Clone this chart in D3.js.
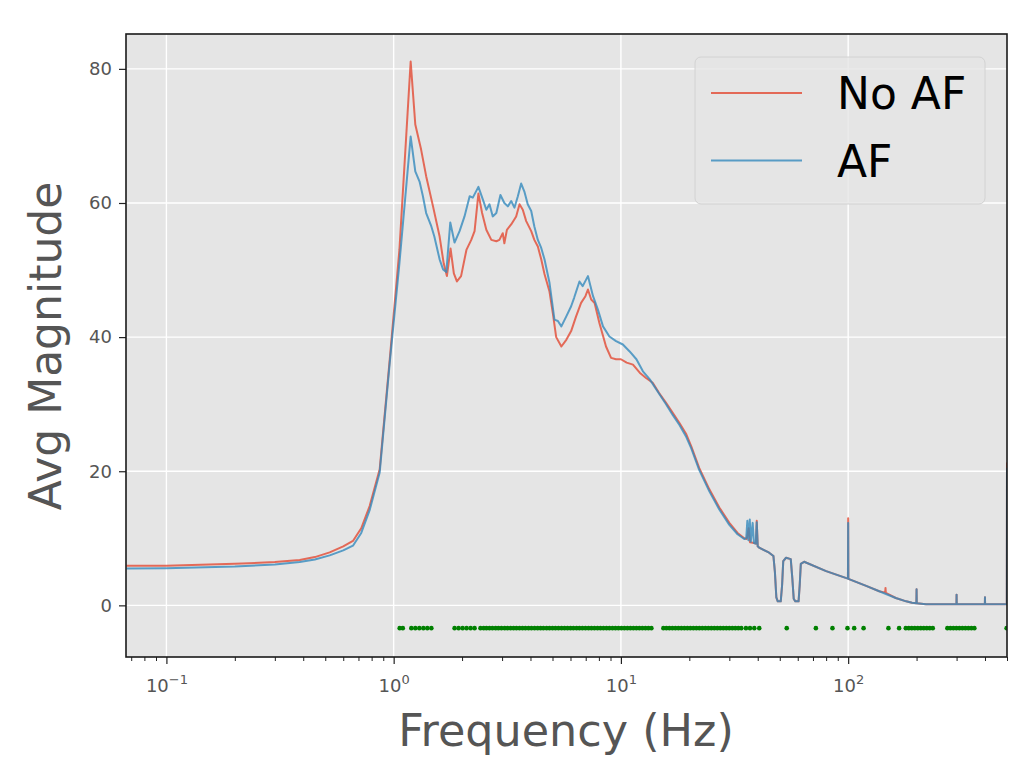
<!DOCTYPE html>
<html>
<head>
<meta charset="utf-8">
<script src="https://cdn.jsdelivr.net/npm/d3@7"></script>
<style>
  html, body { margin: 0; padding: 0; background: #ffffff; }
  svg { display: block; }
  text { font-family: "DejaVu Sans", sans-serif; }
</style>
</head>
<body>
<svg id="chart" width="1024" height="766"></svg>
<script>
// ---------------- data ----------------
const freqNoAF = [0.0667,0.1,0.2,0.3,0.386,0.45,0.523,0.6,0.662,0.72,0.784,0.868,0.96,1.06,1.188,1.245,1.32,1.39,1.49,1.593,1.66,1.715,1.78,1.84,1.898,1.98,2.09,2.195,2.27,2.36,2.45,2.557,2.69,2.83,2.92,3.02,3.07,3.15,3.29,3.46,3.58,3.70,3.83,4.03,4.16,4.31,4.46,4.61,4.85,5.02,5.19,5.47,5.75,6.04,6.35,6.68,6.98,7.16,7.4,7.66,8.04,8.6,9.05,9.52,10,10.6,11.3,12.1,12.9,13.8,14.7,15.8,16.9,18.1,19.4,20.4,22.1,24.5,27.1,30,32.6,34.9,35.8,36.5,37,38.5,39.3,39.6,40.0,40.6,44.9,46.9,47.6,48.3,49,50.5,51.2,51.8,53.3,55.9,56.8,57.6,58.5,60.5,61.2,61.9,64,80,97.5,99.8,100,100.2,120,137,145.5,146,146.5,162,180,191,199.6,200,200.4,220,299.6,300,300.4,399.5,400,400.5,499,500];
const magNoAF = [5.9,5.9,6.2,6.45,6.75,7.2,7.9,8.8,9.6,11.5,14.8,20.3,36.5,53,81.1,71.7,68,64,59.5,55,51,49.1,53.2,49.5,48.3,49.1,53,54.5,55.8,61.4,58.5,56,54.5,54.3,54.5,55.5,54,56,56.8,58,59.8,59,57.3,55.8,54.5,53.5,51.6,49.4,46.8,43.5,40,38.6,39.6,40.9,43.1,45.1,46.1,47.1,45.6,45.1,42.1,38.6,36.9,36.7,36.7,36.2,35.9,34.7,33.9,33.2,31.7,30.2,28.7,27.2,25.5,23.7,20.5,17.3,14.6,12.3,10.8,10.0,9.9,11.5,9.4,9.3,9.2,12.6,8.8,8.6,7.85,7.35,5,1.2,0.6,0.6,3,6.6,7.1,6.9,4,1.0,0.6,0.6,3,6.2,6.5,5.1,4.1,4.0,13,3.95,2.9,2.1,1.9,2.6,1.85,1.1,0.6,0.4,0.3,2.4,0.3,0.15,0.15,1.6,0.15,0.15,1.2,0.15,0.15,21.3];

const freqAF = [0.0667,0.1,0.2,0.3,0.386,0.45,0.523,0.6,0.662,0.72,0.784,0.868,0.96,1.06,1.188,1.245,1.30,1.345,1.39,1.465,1.51,1.593,1.65,1.705,1.775,1.853,1.95,2.05,2.16,2.23,2.36,2.47,2.557,2.64,2.73,2.83,2.95,3.07,3.18,3.29,3.40,3.52,3.64,3.76,3.89,4.03,4.16,4.31,4.46,4.61,4.85,5.10,5.28,5.47,5.75,6.04,6.23,6.57,6.79,7.16,7.54,7.92,8.34,8.9,9.52,10.2,10.9,11.7,12.5,13.4,14.7,15.8,16.9,18.1,19.4,20.4,22.1,24.5,27.1,30,32.6,34.9,35.6,36,36.4,36.9,37.3,38,38.5,39.2,39.6,40.0,40.6,44.9,46.9,47.6,48.3,49,50.5,51.2,51.8,53.3,55.9,56.8,57.6,58.5,60.5,61.2,61.9,64,80,97.5,99.8,100,100.2,120,137,162,180,191,199.6,200,200.4,220,299.6,300,300.4,399.5,400,400.5,499,500];
const magAF = [5.5,5.55,5.8,6.1,6.45,6.85,7.45,8.2,8.9,10.8,14.2,19.8,36,51,69.9,64.7,63.2,61,58.5,56.5,55,51.6,50.1,49.7,57.1,54.1,55.8,58,61,60.8,62.4,60.5,59,59.8,58,58.5,61.2,60,59.5,60.3,59.3,61,62.9,61.7,59.8,58.8,56.5,54.5,53.3,51.6,48.1,42.6,42.4,41.6,43.1,44.6,45.9,48.3,47.6,49.1,46.1,44.1,41.6,40.1,39.4,38.9,37.9,36.7,34.9,33.7,31.6,30.0,28.4,26.9,25.1,23.4,20.2,17.0,14.3,12.0,10.6,9.9,10.0,12.6,9.7,12.8,9.5,12.3,9.3,9.2,12.4,8.8,8.6,7.85,7.35,5,1.2,0.6,0.6,3,6.6,7.1,6.9,4,1.0,0.6,0.6,3,6.2,6.5,5.1,4.1,4.0,12.3,3.95,2.9,2.1,1.1,0.6,0.4,0.3,2.4,0.3,0.15,0.15,1.6,0.15,0.15,1.2,0.15,0.15,20.5];

// significant-frequency markers (green dots)
const sigFreqs = [1.063,1.097,1.196,1.245,1.297,1.351,1.406,1.465,
  1.854,1.931,2.011,2.094,2.181,2.270,
  2.41,2.49,2.56,2.64,2.72,2.81,2.89,2.98,3.08,3.17,3.27,3.37,3.47,3.58,3.69,3.80,3.92,4.04,4.17,4.30,4.43,4.56,4.71,4.85,5.00,5.15,5.31,5.48,5.65,5.82,6.00,6.18,6.38,6.57,6.77,6.98,7.20,7.42,7.65,7.89,8.13,8.38,8.64,8.90,9.18,9.46,9.75,10.05,10.36,10.68,11.01,11.35,11.70,12.06,12.43,12.82,13.21,13.62,
  15.38,15.85,16.34,16.85,17.37,17.90,18.45,19.02,19.61,20.21,20.84,21.48,22.14,22.82,23.53,24.25,25.00,25.77,26.56,27.38,28.23,29.10,29.99,30.92,31.87,32.85,33.87,
  35.5,36.98,38.63,40.62,
  53.66,72.1,85.3,99.3,106.3,116.9,150.4,167.6,
  179.3,184.8,190.5,196.4,202.5,208.7,215.1,221.8,228.6,235.7,
  273.3,281.7,290.4,299.4,308.6,318.1,327.9,338.0,348.5,359.2,
  498];
const sigLevel = -3.4;

const yTicks = [0, 20, 40, 60, 80];
const xTicks = [0.1, 1, 10, 100];
const xTickExp = ["\u22121", "0", "1", "2"];
const seriesNames = ["No AF", "AF"];
const seriesColors = ["#E24A33", "#348ABD"];

// ---------------- layout ----------------
const W = 1024, H = 766;
const m = { left: 126, top: 34, right: 17, bottom: 109 };
const pw = W - m.left - m.right, ph = H - m.top - m.bottom;

const svg = d3.select("#chart");
const g = svg.append("g").attr("transform", `translate(${m.left},${m.top})`);

const x = d3.scaleLog().domain([0.0664, 500]).range([0, pw]);
const y = d3.scaleLinear().domain([-7.7, 85.2]).range([ph, 0]);

// background
g.append("rect").attr("width", pw).attr("height", ph).attr("fill", "#E5E5E5");

// clip
svg.append("defs").append("clipPath").attr("id", "clip")
  .append("rect").attr("width", pw).attr("height", ph);

// grid
const grid = g.append("g");
grid.selectAll(".gx").data(xTicks).join("line")
  .attr("x1", d => x(d)).attr("x2", d => x(d)).attr("y1", 0).attr("y2", ph)
  .attr("stroke", "#ffffff").attr("stroke-width", 1.4);
grid.selectAll(".gy").data(yTicks).join("line")
  .attr("x1", 0).attr("x2", pw).attr("y1", d => y(d)).attr("y2", d => y(d))
  .attr("stroke", "#ffffff").attr("stroke-width", 1.4);

// lines
const line = d3.line().x(d => x(d[0])).y(d => y(d[1]));
const series = [d3.zip(freqNoAF, magNoAF), d3.zip(freqAF, magAF)];
const plot = g.append("g").attr("clip-path", "url(#clip)");
series.forEach((s, i) => {
  plot.append("path").datum(s).attr("d", line)
    .attr("fill", "none").attr("stroke", seriesColors[i])
    .attr("stroke-width", 2).attr("stroke-opacity", 0.8)
    .attr("stroke-linejoin", "round");
});

// significance dots
plot.selectAll(".sig").data(sigFreqs).join("circle")
  .attr("cx", d => x(d)).attr("cy", y(sigLevel)).attr("r", 2.3)
  .attr("fill", "#008000");

// axes
const tickColor = "#555555";
const yAxis = d3.axisLeft(y).tickValues(yTicks).tickSize(7).tickPadding(7).tickFormat(d3.format("d"));
const ya = g.append("g").call(yAxis);
ya.select(".domain").remove();
ya.selectAll("line").attr("stroke", "#222").attr("stroke-width", 1.2);
ya.selectAll("text").attr("fill", tickColor).style("font-size", "18px");

const minorTicks = [];
[0.01, 0.1, 1, 10, 100].forEach(dec => { for (let k = 2; k <= 9; k++) { const v = dec * k; if (v >= 0.0664 && v <= 500.01) minorTicks.push(v); } });
const xMinor = d3.axisBottom(x).tickValues(minorTicks).tickSize(4).tickFormat("");
const xm = g.append("g").attr("transform", `translate(0,${ph})`).call(xMinor);
xm.select(".domain").remove();
xm.selectAll("line").attr("stroke", "#222").attr("stroke-width", 1);

const xAxis = d3.axisBottom(x).tickValues(xTicks).tickSize(7).tickPadding(6).tickFormat("");
const xa = g.append("g").attr("transform", `translate(0,${ph})`).call(xAxis);
xa.select(".domain").remove();
xa.selectAll("line").attr("stroke", "#222").attr("stroke-width", 1.2);
xa.selectAll(".tick").each(function(d, i) {
  const t = d3.select(this).append("text").attr("fill", tickColor)
    .attr("y", 35).attr("text-anchor", "middle").style("font-size", "18px");
  t.append("tspan").text("10");
  t.append("tspan").text(xTickExp[i]).attr("dy", -8).style("font-size", "13px");
});

// frame
g.append("rect").attr("width", pw).attr("height", ph)
  .attr("fill", "none").attr("stroke", "#1a1a1a").attr("stroke-width", 1.6);

// axis labels
svg.append("text").attr("x", 566).attr("y", 746).attr("text-anchor", "middle")
  .attr("fill", tickColor).style("font-size", "44.5px").text("Frequency (Hz)");
svg.append("text").attr("transform", `translate(61,346) rotate(-90)`)
  .attr("text-anchor", "middle").attr("fill", tickColor).style("font-size", "44px").text("Avg Magnitude");

// legend
const lg = svg.append("g");
lg.append("rect").attr("x", 695).attr("y", 57).attr("width", 290).attr("height", 147)
  .attr("rx", 6).attr("fill", "#E5E5E5").attr("fill-opacity", 0.8)
  .attr("stroke", "#d2d2d2").attr("stroke-width", 1);
seriesNames.forEach((name, i) => {
  const yy = 93 + i * 67.5;
  lg.append("line").attr("x1", 711).attr("x2", 802).attr("y1", yy).attr("y2", yy)
    .attr("stroke", seriesColors[i]).attr("stroke-width", 2).attr("stroke-opacity", 0.8);
  lg.append("text").attr("x", 837).attr("y", yy + 16).attr("fill", "#000")
    .style("font-size", "44px").text(name);
});
</script>
</body>
</html>
